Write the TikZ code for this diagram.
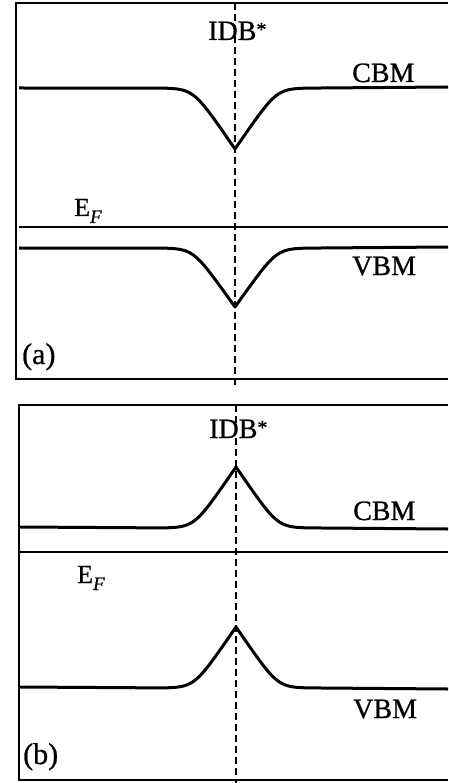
\documentclass[tikz,border=0pt]{standalone}
\usepackage{fontspec}
\setmainfont{Liberation Serif}[FakeBold=0.8]
\tikzset{
  frameline/.style={line width=2pt},
  bandline/.style={line width=3pt, line join=round},
  fermiline/.style={line width=1.5pt},
  idbline/.style={line width=2.2pt, dash pattern=on 7pt off 4pt},
  lbl/.style={inner sep=0pt, anchor=base west, font=\fontsize{28}{32}\selectfont},
  eflbl/.style={inner sep=0pt, anchor=base west, font=\fontsize{26}{30}\selectfont},
  panellbl/.style={inner sep=0pt, anchor=base west, font=\fontsize{30}{34}\selectfont},
  declare function={dipf(\d)=ln(1+exp((42-abs(\d))/7))/ln(1+exp(6));},
}
\newcommand{\EFlabel}{E\raisebox{-7pt}{\fontsize{19}{22}\selectfont\itshape F}}
\newcommand{\IDBlabel}{IDB\raisebox{4pt}{\fontsize{20}{20}\selectfont *}}
\begin{document}
\begin{tikzpicture}[x=1pt,y=-1pt]
\useasboundingbox (0,0) rectangle (448,783);
% ---------- panel (a)
\draw[frameline] (448,3.5) -- (16,3.5) -- (16,379) -- (448,379);
\draw[idbline] (235,3.5) -- (235,387);
\draw[bandline] (19,88) -- plot[domain=-75:75, samples=151] ({235+\x},{88+61*dipf(\x)}) -- (448,87);
\draw[fermiline] (19,227) -- (448,227);
\draw[bandline] (19,248) -- plot[domain=-75:75, samples=151] ({235+\x},{248+59*dipf(\x)}) -- (448,247);
\node[lbl] (idba) at (208,40) {\IDBlabel};
\node[lbl] (cbma) at (352,82) {CBM};
\node[lbl] (vbma) at (352,275) {VBM};
\node[eflbl] (efa) at (74,216) {\EFlabel};
\node[panellbl] (pa) at (22,364) {(a)};
% ---------- panel (b)
\draw[frameline] (448,405) -- (19,405) -- (19,780) -- (448,780);
\draw[idbline] (236,405) -- (236,783);
\draw[bandline] (20,527) -- plot[domain=-75:75, samples=151] ({236+\x},{528-61*dipf(\x)}) -- (448,529);
\draw[line width=2pt] (20,552) -- (448,552);
\draw[bandline] (20,687) -- plot[domain=-75:75, samples=151] ({236+\x},{688-61*dipf(\x)}) -- (448,689);
\node[lbl] (idbb) at (209,438) {\IDBlabel};
\node[lbl] (cbmb) at (353,520) {CBM};
\node[lbl] (vbmb) at (353,718) {VBM};
\node[eflbl] (efb) at (77,583) {\EFlabel};
\node[panellbl] (pb) at (23,764) {(b)};
\end{tikzpicture}
\end{document}
